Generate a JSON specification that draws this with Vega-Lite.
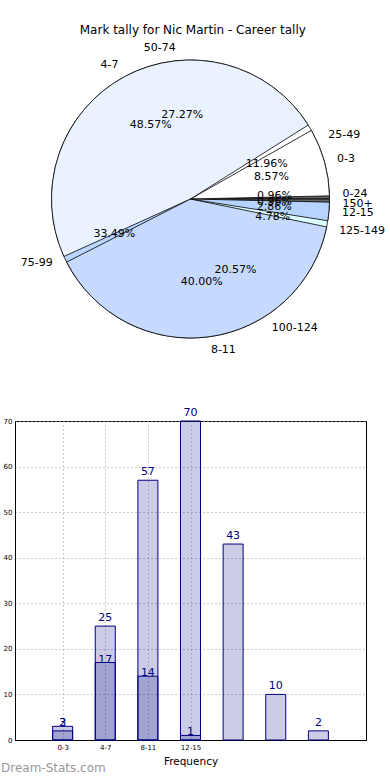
{
  "$schema": "https://vega.github.io/schema/vega-lite/v6.json",
  "padding": {"left": 0, "top": 23, "right": 0, "bottom": 0},
  "config": {
    "font": "DejaVu Sans",
    "view": {"stroke": "black", "strokeWidth": 1},
    "title": {"font": "DejaVu Sans", "fontWeight": "normal", "fontSize": 12, "color": "black"}
  },
  "title": {"text": "Mark tally for Nic Martin - Career tally", "anchor": "middle", "fontSize": 12, "offset": 5},
  "datasets": {
    "marks": [
      {"i": 0, "label": "0-3", "pos": 0, "count": 3, "frac": 0.0857},
      {"i": 1, "label": "4-7", "pos": 1, "count": 17, "frac": 0.4857},
      {"i": 2, "label": "8-11", "pos": 2, "count": 14, "frac": 0.4},
      {"i": 3, "label": "12-15", "pos": 3, "count": 1, "frac": 0.0286}
    ],
    "scores": [
      {"i": 0, "label": "0-24", "pos": 0, "count": 2, "frac": 0.0096},
      {"i": 1, "label": "25-49", "pos": 1, "count": 25, "frac": 0.1196},
      {"i": 2, "label": "50-74", "pos": 2, "count": 57, "frac": 0.2727},
      {"i": 3, "label": "75-99", "pos": 3, "count": 70, "frac": 0.3349},
      {"i": 4, "label": "100-124", "pos": 4, "count": 43, "frac": 0.2057},
      {"i": 5, "label": "125-149", "pos": 5, "count": 10, "frac": 0.0478},
      {"i": 6, "label": "150+", "pos": 6, "count": 2, "frac": 0.0096}
    ]
  },
  "vconcat": [
    {
      "width": 351,
      "height": 300,
      "view": {"stroke": null},
      "encoding": {
        "theta": {"field": "frac", "type": "quantitative", "stack": true, "scale": {"domain": [0, 1], "range": [1.5708, -4.7124], "zero": true, "nice": false}},
        "order": {"field": "i", "type": "quantitative"}
      },
      "layer": [
        {
          "data": {"name": "scores"},
          "mark": {"type": "arc", "outerRadius": 139, "stroke": "black", "strokeWidth": 0.8},
          "encoding": {
            "color": {"field": "label", "type": "nominal", "legend": null,
              "scale": {"domain": ["0-24", "25-49", "50-74", "75-99", "100-124", "125-149", "150+", "0-3", "4-7", "8-11", "12-15"],
                        "range": ["#666666", "#ffffff", "#eaf2ff", "#b8d6ff", "#c6d9ff", "#dcffff", "#666666", "#ffffff", "#eaf2ff", "#c6d9ff", "#b6d4ff"]}}
          }
        },
        {
          "data": {"name": "marks"},
          "mark": {"type": "arc", "outerRadius": 139, "padAngle": 0.045, "stroke": "black", "strokeWidth": 0.8},
          "encoding": {
            "color": {"field": "label", "type": "nominal", "legend": null}
          }
        },
        {
          "data": {"name": "scores"},
          "mark": {"type": "text", "radius": 152, "fontSize": 11, "baseline": "middle",
            "align": {"expr": "cos(PI*(datum.frac_start+datum.frac_end)) < 0 ? 'right' : 'left'"}},
          "encoding": {"detail": {"field": "label", "type": "nominal"}, "text": {"field": "label", "type": "nominal"}}
        },
        {
          "data": {"name": "marks"},
          "mark": {"type": "text", "radius": 152, "fontSize": 11, "baseline": "middle",
            "align": {"expr": "cos(PI*(datum.frac_start+datum.frac_end)) < 0 ? 'right' : 'left'"}},
          "encoding": {"detail": {"field": "label", "type": "nominal"}, "text": {"field": "label", "type": "nominal"}}
        },
        {
          "data": {"name": "scores"},
          "mark": {"type": "text", "radius": 84, "fontSize": 11, "baseline": "middle", "align": "center"},
          "encoding": {"detail": {"field": "label", "type": "nominal"}, "text": {"field": "frac", "type": "quantitative", "format": ".2%"}}
        },
        {
          "data": {"name": "marks"},
          "mark": {"type": "text", "radius": 84, "fontSize": 11, "baseline": "middle", "align": "center"},
          "encoding": {"detail": {"field": "label", "type": "nominal"}, "text": {"field": "frac", "type": "quantitative", "format": ".2%"}}
        }
      ]
    },
    {
      "width": 351,
      "height": 319,
      "title": {"text": "Dream-Stats.com", "orient": "bottom", "anchor": "start", "frame": "group", "fontSize": 12, "fontWeight": "normal", "color": "#999999", "dx": -14, "offset": -4},
      "encoding": {
        "x": {"field": "pos", "type": "quantitative", "scale": {"domain": [-1, 7], "nice": false, "zero": false},
          "axis": {"values": [0, 1, 2, 3], "labelExpr": "['0-3','4-7','8-11','12-15'][datum.value]", "title": "Frequency",
            "labelFontSize": 7, "titleFontSize": 10.5, "titleFontWeight": "normal", "titleColor": "black", "labelColor": "black",
            "grid": true, "gridDash": [1, 3], "gridColor": "#999999", "ticks": false, "labelPadding": 3, "titlePadding": 6, "domainColor": "black"}},
        "y": {"field": "count", "type": "quantitative", "scale": {"domain": [0, 70], "nice": false},
          "axis": {"values": [0, 10, 20, 30, 40, 50, 60, 70], "title": null, "labelFontSize": 7, "labelColor": "black",
            "grid": true, "gridDash": [1, 3], "gridColor": "#999999", "ticks": false, "labelPadding": 3, "domainColor": "black"}}
      },
      "layer": [
        {
          "data": {"name": "scores"},
          "mark": {"type": "bar", "size": 20, "fill": "#000080", "fillOpacity": 0.2, "stroke": "#000080", "strokeWidth": 1}
        },
        {
          "data": {"name": "marks"},
          "mark": {"type": "bar", "size": 20, "fill": "#000080", "fillOpacity": 0.2, "stroke": "#000080", "strokeWidth": 1}
        },
        {
          "data": {"name": "scores"},
          "mark": {"type": "text", "fontSize": 11, "color": "#000080", "baseline": "bottom", "dy": -3},
          "encoding": {"text": {"field": "count", "type": "quantitative"}}
        },
        {
          "data": {"name": "marks"},
          "mark": {"type": "text", "fontSize": 11, "color": "#000080", "baseline": "bottom", "dy": 2},
          "encoding": {"text": {"field": "count", "type": "quantitative"}}
        }
      ]
    }
  ],
  "spacing": 72,
  "bounds": "flush"
}
